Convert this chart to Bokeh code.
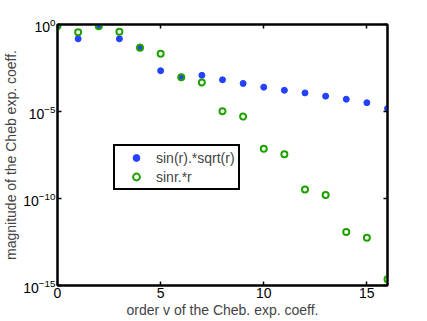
from bokeh.plotting import figure
from bokeh.models import FixedTicker, LinearAxis, LogAxis, Legend, LegendItem, Range1d
from bokeh.embed import file_html
from bokeh.resources import INLINE

order = list(range(17))
sin_sqrt = [0.78, 0.15, 0.79, 0.15, 0.050, 0.0022, 0.00093, 0.0012, 0.00066, 0.00041,
            0.00025, 0.000166, 0.000117, 0.000076, 0.000051, 0.000032, 0.0000148]
sin_r = [0.79, 0.36, 0.80, 0.38, 0.046, 0.021, 0.00093, 0.00047, 0.0000105, 0.0000051,
         7.2e-8, 3.5e-8, 3.3e-10, 1.6e-10, 1.17e-12, 5.5e-13, 2.3e-15]
xticks = [0, 5, 10, 15]
yticks = [1e-15, 1e-10, 1e-5, 1e0]

FONT = "Liberation Sans"
p = figure(width=427, height=321, y_axis_type="log", output_backend="svg",
           toolbar_location=None, x_range=Range1d(0, 16), y_range=Range1d(1e-15, 1e0),
           min_border_left=56, min_border_right=40, min_border_top=24, min_border_bottom=36)
p.grid.visible = False
p.outline_line_color = "black"
p.outline_line_width = 2
p.background_fill_color = "white"
p.border_fill_color = "white"

def style(ax):
    ax.axis_line_color = "black"
    ax.axis_line_width = 2
    ax.major_tick_in = 4
    ax.major_tick_out = 0
    ax.major_tick_line_width = 1.5
    ax.minor_tick_line_color = None
    ax.major_label_text_font = FONT
    ax.major_label_text_font_size = "14px"
    ax.major_label_text_color = "black"
    ax.major_label_standoff = 2
    ax.axis_label_text_font = FONT
    ax.axis_label_text_font_size = "14px"
    ax.axis_label_text_font_style = "normal"
    ax.axis_label_standoff = 1

p.xaxis.ticker = FixedTicker(ticks=xticks)
p.yaxis.ticker = FixedTicker(ticks=yticks)
p.xaxis.axis_label = "order v of the Cheb. exp. coeff."
p.yaxis.axis_label = "magnitude of the Cheb exp. coeff."
style(p.xaxis[0])
style(p.yaxis[0])

top = LinearAxis(ticker=FixedTicker(ticks=xticks),
                 major_label_overrides={t: "" for t in xticks})
style(top)
p.add_layout(top, "above")
right = LogAxis(ticker=FixedTicker(ticks=yticks),
                major_label_overrides={t: "" for t in yticks})
style(right)
p.add_layout(right, "right")

r1 = p.scatter(order, sin_sqrt, size=6, color="#2341ff", marker="circle")
r2 = p.scatter(order, sin_r, size=6, fill_color=None, line_color="#1ea000",
               line_width=2, marker="circle")

legend = Legend(items=[LegendItem(label="sin(r).*sqrt(r)", renderers=[r1]),
                       LegendItem(label="sinr.*r", renderers=[r2])],
                location=(56, 95))
legend.border_line_color = "black"
legend.border_line_width = 2
legend.border_line_alpha = 1.0
legend.background_fill_alpha = 1.0
legend.label_text_font = FONT
legend.label_text_font_size = "14px"
legend.glyph_width = 36
legend.glyph_height = 17
legend.label_height = 17
legend.label_standoff = 2
legend.spacing = 2
legend.padding = 3
legend.margin = 0
p.add_layout(legend, "center")

open("out.html", "w").write(file_html(p, INLINE))
